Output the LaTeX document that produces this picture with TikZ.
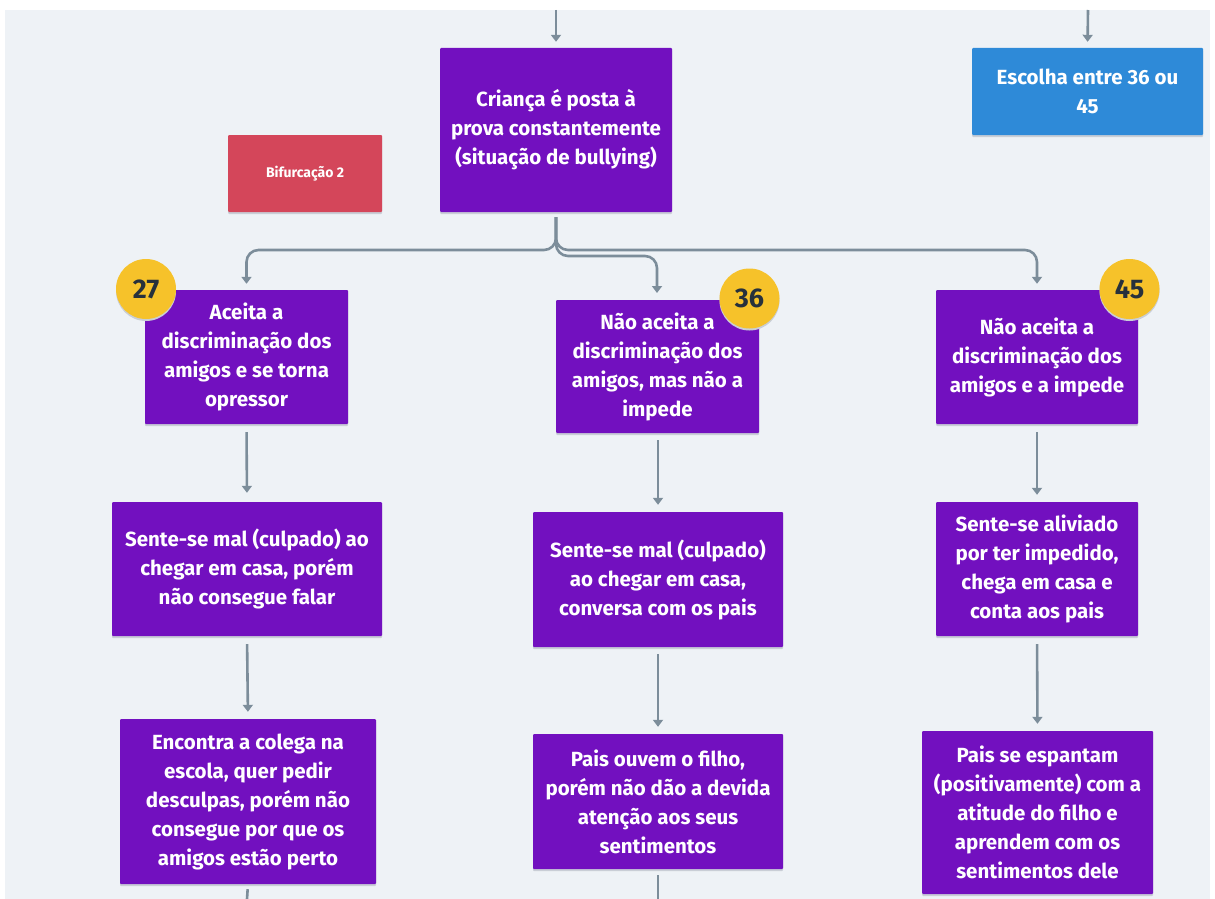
\documentclass[tikz,border=0pt]{standalone}
\usepackage{fontspec}
\setmainfont{Fira Sans}
\usetikzlibrary{arrows.meta}
\definecolor{bgc}{HTML}{EEF2F6}
\definecolor{purp}{HTML}{7210BF}
\definecolor{redb}{HTML}{D4465A}
\definecolor{blueb}{HTML}{2E8AD8}
\definecolor{yel}{HTML}{F6C22A}
\definecolor{dark}{HTML}{27313C}
\definecolor{conn}{HTML}{7C8D9A}
\definecolor{shad}{HTML}{C9CED6}
\tikzset{
  box/.style={rectangle, fill=purp, text=white, inner sep=0pt, align=center,
    font=\fontsize{20.5}{29}\selectfont\bfseries, rounded corners=1pt},
  badge/.style={circle, fill=yel, text=dark, minimum size=60pt, inner sep=0pt,
    font=\fontsize{27}{30}\selectfont\bfseries},
  arr/.style={draw=conn, line width=2.6pt, -{Triangle[width=10pt,length=7pt]},
    shorten >=7pt},
  branch/.style={arr, rounded corners=12pt},
}
\begin{document}
\begin{tikzpicture}[x=1pt,y=-1pt]
\useasboundingbox (0,0) rectangle (1215,899);
\fill[white] (0,0) rectangle (1215,899);
\fill[bgc] (5,10) rectangle (1210,899);

% shadows
\foreach \a/\b/\c/\d in {440/48/672/212, 972/48/1203/135, 228/135/382/212,
  145/290/348/424, 556/300/759/433, 936/290/1138/424,
  112/502/382/636, 533/512/783/647, 936/502/1138/636,
  120/719/376/884, 533/734/783/869, 922/731/1153/894}
  \fill[shad, rounded corners=1pt] (\a,\b+2) rectangle (\c,\d+2);

\node[box, minimum width=232pt, minimum height=164pt] (c) at (556,130)
  {Criança é posta à\\prova constantemente\\(situação de bullying)};
\node[box, fill=blueb, minimum width=231pt, minimum height=87pt] (e) at (1087.5,91.5)
  {Escolha entre 36 ou\\45};
\node[box, fill=redb, minimum width=154pt, minimum height=77pt,
  font=\fontsize{14}{16}\selectfont\bfseries] (b) at (305,173.5) {Bifurcação 2};

\node[box, minimum width=203pt, minimum height=134pt] (n27) at (246.5,357)
  {Aceita a\\discriminação dos\\amigos e se torna\\opressor};
\node[box, minimum width=203pt, minimum height=133pt] (n36) at (657.5,366.5)
  {Não aceita a\\discriminação dos\\amigos, mas não a\\impede};
\node[box, minimum width=202pt, minimum height=134pt] (n45) at (1037,357)
  {Não aceita a\\discriminação dos\\amigos e a impede};

\node[box, minimum width=270pt, minimum height=134pt] (l2) at (247,569)
  {Sente-se mal (culpado) ao\\chegar em casa, porém\\não consegue falar};
\node[box, minimum width=250pt, minimum height=135pt] (m2) at (658,579.5)
  {Sente-se mal (culpado)\\ao chegar em casa,\\conversa com os pais};
\node[box, minimum width=202pt, minimum height=134pt] (r2) at (1037,569)
  {Sente-se aliviado\\por ter impedido,\\chega em casa e\\conta aos pais};

\node[box, minimum width=256pt, minimum height=165pt] (l3) at (248,801.5)
  {Encontra a colega na\\escola, quer pedir\\desculpas, porém não\\consegue por que os\\amigos estão perto};
\node[box, minimum width=250pt, minimum height=135pt] (m3) at (658,801.5)
  {Pais ouvem o filho,\\porém não dão a devida\\atenção aos seus\\sentimentos};
\node[box, minimum width=231pt, minimum height=163pt] (r3) at (1037.5,812.5)
  {Pais se espantam\\(positivamente) com a\\atitude do filho e\\aprendem com os\\sentimentos dele};

% badges
\fill[shad] (146,291) circle (30pt);
\fill[shad] (749.5,300.5) circle (30pt);
\fill[shad] (1129.5,291) circle (30pt);
\node[badge] (b27) at (146,289) {27};
\node[badge] (b36) at (749.5,298.5) {36};
\node[badge] (b45) at (1129.5,289) {45};

% free ends
\coordinate (ctop) at (556,10);
\coordinate (etop) at (1088,10);
\coordinate (lbot) at (247,899);
\coordinate (mbot) at (658,899);

% top arrows
\draw[arr, shorten >=6pt] (ctop) -- (c.north);
\draw[arr, shorten >=6pt] (etop) -- (e.north);

% branches
\draw[branch, shorten >=6pt] ([yshift=-5pt]c.south) -- (556,250) -- (n27.north |- 0,250) -- (n27.north);
\draw[branch, shorten >=6pt] ([yshift=-5pt]c.south) -- (556,250) -- (n45.north |- 0,250) -- (n45.north);
\draw[branch, shorten >=7pt] ([yshift=-5pt]c.south) -- (556,256) -- (657,256) -- (657,300);

% verticals
\draw[arr, shorten <=8pt, shorten >=9pt] (n27.south) -- (l2.north);
\draw[arr, shorten <=7pt, shorten >=7pt] (n36.south -| m2.north) -- (m2.north);
\draw[arr, shorten <=8pt, shorten >=7pt] (n45.south) -- (r2.north);
\draw[arr, shorten <=8pt, shorten >=7pt] (l2.south) -- (l3.north);
\draw[arr, shorten <=7pt, shorten >=7pt] (m2.south) -- (m3.north);
\draw[arr, shorten <=8pt, shorten >=7pt] (r2.south) -- (r3.north);

% lines leaving bottom
\draw[draw=conn, line width=2.6pt, shorten <=5pt] (l3.south) -- (lbot);
\draw[draw=conn, line width=2.6pt, shorten <=6pt] (m3.south) -- (mbot);
\end{tikzpicture}
\end{document}
